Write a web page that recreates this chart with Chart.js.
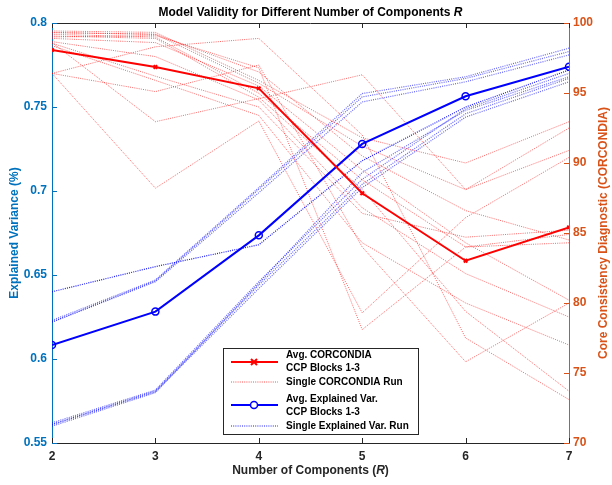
<!DOCTYPE html>
<html>
<head>
<meta charset="utf-8">
<script src="https://cdn.jsdelivr.net/npm/chart.js@4.4.1/dist/chart.umd.min.js"></script>
<style>
  html, body { margin: 0; padding: 0; background: #fff; }
  #wrap { width: 612px; height: 485px; }
</style>
</head>
<body>
<div id="wrap"><canvas id="chart" width="612" height="485"></canvas></div>
<script>
// Data
const components = [2, 3, 4, 5, 6, 7];
const avgCorcondia = [98.07, 96.86, 95.33, 87.84, 83.02, 85.4];
const avgExplained = [0.6083, 0.6282, 0.6736, 0.728, 0.7564, 0.774];

// single CORCONDIA runs (right axis)
const corcondiaRuns = [
  [99.43, 99.33, 95.9, 91.8, 90.0, 92.95],
  [99.33, 99.19, 95.7, 91.2, 88.1, 90.9],
  [99.19, 99.0, 94.98, 88.8, 84.0, 84.9],
  [99.07, 98.9, 94.7, 88.1, 79.4, 73.7],
  [98.67, 97.6, 94.5, 86.8, 82.1, 79.0],
  [98.55, 96.2, 94.0, 86.4, 84.7, 85.2],
  [98.38, 95.9, 93.4, 84.3, 80.0, 77.0],
  [98.6, 92.95, 94.6, 96.3, 88.1, 92.5],
  [96.4, 88.2, 93.0, 79.3, 86.1, 90.4],
  [96.4, 98.3, 98.9, 92.0, 77.5, 73.1],
  [96.4, 95.1, 97.0, 84.0, 75.8, 80.0],
  [99.0, 99.1, 96.8, 78.1, 84.0, 84.3],
  [99.3, 99.2, 96.5, 90.5, 86.6, 84.5],
  [98.9, 98.6, 95.5, 89.5, 84.3, 80.2]
];

// single explained variance runs (left axis)
const explainedRuns = [
  [0.640, 0.655, 0.668, 0.718, 0.750, 0.772],
  [0.623, 0.647, 0.702, 0.758, 0.768, 0.785],
  [0.622, 0.6465, 0.701, 0.756, 0.767, 0.783],
  [0.622, 0.646, 0.699, 0.753, 0.765, 0.781],
  [0.562, 0.5815, 0.646, 0.707, 0.749, 0.770],
  [0.561, 0.581, 0.644, 0.704, 0.746, 0.767],
  [0.561, 0.5805, 0.642, 0.702, 0.744, 0.765],
  [0.560, 0.580, 0.645, 0.711, 0.748, 0.768]
];

const leftTicks = [0.55, 0.6, 0.65, 0.7, 0.75, 0.8];
const rightTicks = [70, 75, 80, 85, 90, 95, 100];

const BLUE_AX = "#0072BD";
const ORANGE_AX = "#D95319";
const DARK = "#262626";
const FONT = "'Liberation Sans', Arial, sans-serif";
const DOT = [1, 1.2];

const toXY = vals => vals.map((v, i) => ({ x: components[i], y: v }));

const datasets = [
  {
    label: "Avg. CORCONDIA CCP Blocks 1-3", data: toXY(avgCorcondia), yAxisID: "y1",
    borderColor: "#ff0000", borderWidth: 2, pointStyle: "crossRot", pointRadius: 2.5,
    pointBorderWidth: 2, pointBorderColor: "#ff0000", backgroundColor: "#ff0000"
  },
  {
    label: "Avg. Explained Var. CCP Blocks 1-3", data: toXY(avgExplained), yAxisID: "y",
    borderColor: "#0000ff", borderWidth: 2, pointStyle: "circle", pointRadius: 3.5,
    pointBorderWidth: 1.5, pointBorderColor: "#0000ff", pointBackgroundColor: "rgba(0,0,0,0)"
  }
];

explainedRuns.forEach((run, i) => {
  datasets.push({
    label: "Single Explained Var. Run", data: toXY(run), yAxisID: "y",
    borderColor: i === 0 ? "rgba(0,0,255,0.9)" : "rgba(0,0,255,0.6)", borderWidth: 1.2,
    borderDash: DOT, pointRadius: 0
  });
});

corcondiaRuns.forEach(run => {
  datasets.push({
    label: "Single CORCONDIA Run", data: toXY(run), yAxisID: "y1",
    borderColor: "rgba(255,0,0,0.6)", borderWidth: 1,
    borderDash: DOT, pointRadius: 0
  });
});

// text with mixed upright / italic parts, centred on (cx, cy)
function drawMixed(ctx, parts, cx, cy) {
  let total = 0;
  parts.forEach(p => { ctx.font = p[1] + "bold 12px " + FONT; total += ctx.measureText(p[0]).width; });
  let x = cx - total / 2;
  ctx.textAlign = "left";
  ctx.textBaseline = "middle";
  parts.forEach(p => {
    ctx.font = p[1] + "bold 12px " + FONT;
    ctx.fillText(p[0], x, cy);
    x += ctx.measureText(p[0]).width;
  });
}

// frame, inward ticks, titles, axis titles and legend
const decorations = {
  id: "decorations",
  afterDraw(chart) {
    const { ctx, chartArea: a, scales } = chart;
    ctx.save();
    ctx.lineWidth = 1;

    ctx.strokeStyle = DARK;
    ctx.beginPath();
    ctx.moveTo(a.left, a.top + 0.5);
    ctx.lineTo(a.right, a.top + 0.5);
    ctx.stroke();

    scales.x.ticks.forEach(t => {
      const px = Math.round(scales.x.getPixelForValue(t.value)) + 0.5;
      ctx.beginPath();
      ctx.moveTo(px, a.bottom); ctx.lineTo(px, a.bottom - 5);
      ctx.moveTo(px, a.top); ctx.lineTo(px, a.top + 5);
      ctx.stroke();
    });
    ctx.strokeStyle = BLUE_AX;
    scales.y.ticks.forEach(t => {
      const py = Math.round(scales.y.getPixelForValue(t.value)) + 0.5;
      ctx.beginPath(); ctx.moveTo(a.left, py); ctx.lineTo(a.left + 5, py); ctx.stroke();
    });
    ctx.strokeStyle = ORANGE_AX;
    scales.y1.ticks.forEach(t => {
      const py = Math.round(scales.y1.getPixelForValue(t.value)) + 0.5;
      ctx.beginPath(); ctx.moveTo(a.right, py); ctx.lineTo(a.right - 5, py); ctx.stroke();
    });

    const midX = (a.left + a.right) / 2;
    const midY = (a.top + a.bottom) / 2;
    ctx.fillStyle = "#000";
    drawMixed(ctx, [["Model Validity for Different Number of Components ", ""], ["R", "italic "]], midX, 13);
    ctx.fillStyle = DARK;
    drawMixed(ctx, [["Number of Components (", ""], ["R", "italic "], [")", ""]], midX, 471);

    ctx.save();
    ctx.translate(15, midY);
    ctx.rotate(-Math.PI / 2);
    ctx.fillStyle = BLUE_AX;
    drawMixed(ctx, [["Explained Variance (%)", ""]], 0, 0);
    ctx.restore();

    ctx.save();
    ctx.translate(604, midY);
    ctx.rotate(-Math.PI / 2);
    ctx.fillStyle = ORANGE_AX;
    drawMixed(ctx, [["Core Consistency Diagnostic (CORCONDIA)", ""]], 0, 0);
    ctx.restore();

    // legend
    const lx = 223.5, ly = 348.5, lw = 195, lh = 86;
    ctx.fillStyle = "#fff";
    ctx.fillRect(lx, ly, lw, lh);
    ctx.strokeStyle = DARK;
    ctx.strokeRect(lx, ly, lw, lh);

    const x0 = 231, x1 = 278, mx = 254, tx = 286;
    const entry = (y, color, dashed, marker) => {
      ctx.strokeStyle = color;
      ctx.lineWidth = dashed ? 1 : 2;
      ctx.setLineDash(dashed ? DOT : []);
      ctx.beginPath(); ctx.moveTo(x0, y); ctx.lineTo(x1, y); ctx.stroke();
      ctx.setLineDash([]);
      if (marker === "x") {
        ctx.lineWidth = 2;
        ctx.beginPath();
        ctx.moveTo(mx - 3, y - 3); ctx.lineTo(mx + 3, y + 3);
        ctx.moveTo(mx + 3, y - 3); ctx.lineTo(mx - 3, y + 3);
        ctx.stroke();
      } else if (marker === "o") {
        ctx.lineWidth = 1.5;
        ctx.fillStyle = "#fff";
        ctx.beginPath(); ctx.arc(mx, y, 3.5, 0, Math.PI * 2); ctx.fill(); ctx.stroke();
      }
    };
    entry(362, "#ff0000", false, "x");
    entry(382, "rgba(255,0,0,0.7)", true);
    entry(405, "#0000ff", false, "o");
    entry(426, "rgba(0,0,255,0.9)", true);

    ctx.fillStyle = "#000";
    ctx.font = "bold 10px " + FONT;
    ctx.textAlign = "left";
    ctx.textBaseline = "middle";
    [["Avg. CORCONDIA", 355], ["CCP Blocks 1-3", 368], ["Single CORCONDIA Run", 382],
     ["Avg. Explained Var.", 399], ["CCP Blocks 1-3", 412], ["Single Explained Var. Run", 426]]
      .forEach(([t, y]) => ctx.fillText(t, tx, y));

    ctx.restore();
  }
};

new Chart(document.getElementById("chart"), {
  type: "line",
  data: { datasets },
  options: {
    responsive: false,
    animation: false,
    layout: { padding: { top: 23, left: 0, right: 0, bottom: 0 } },
    plugins: { legend: { display: false }, title: { display: false }, tooltip: { enabled: false } },
    scales: {
      x: {
        type: "linear", min: 2, max: 7,
        afterFit: s => { s.height = 42; },
        grid: { display: false, drawTicks: false },
        border: { display: true, color: DARK, width: 1 },
        ticks: { stepSize: 1, padding: 6, color: DARK, font: { family: FONT, size: 12, weight: "bold" } }
      },
      y: {
        position: "left", min: 0.55, max: 0.8,
        afterFit: s => { s.width = 52; },
        afterBuildTicks: s => { s.ticks = leftTicks.map(v => ({ value: v })); },
        grid: { display: false, drawTicks: false },
        border: { display: true, color: BLUE_AX, width: 1 },
        ticks: { padding: 5, color: BLUE_AX, font: { family: FONT, size: 12, weight: "bold" },
                 callback: v => String(+v.toFixed(2)) }
      },
      y1: {
        position: "right", min: 70, max: 100,
        afterFit: s => { s.width = 43; },
        afterBuildTicks: s => { s.ticks = rightTicks.map(v => ({ value: v })); },
        grid: { display: false, drawTicks: false },
        border: { display: true, color: ORANGE_AX, width: 1 },
        ticks: { padding: 4, color: ORANGE_AX, font: { family: FONT, size: 12, weight: "bold" } }
      }
    }
  },
  plugins: [decorations]
});
</script>
</body>
</html>
